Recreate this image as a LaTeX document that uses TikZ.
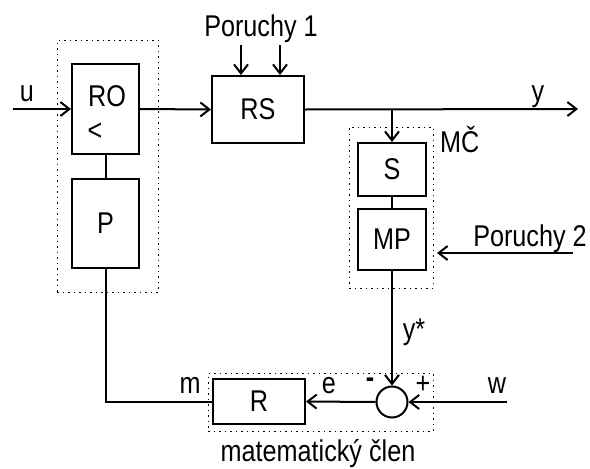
\documentclass[tikz,border=0pt]{standalone}
\usepackage{fontspec}
\setmainfont{Liberation Sans}[FakeStretch=0.84]
\usetikzlibrary{arrows.meta}
\begin{document}
\begin{tikzpicture}[x=1pt,y=-1pt,
  blk/.style={draw,line width=2pt,inner sep=0pt,anchor=center},
  grp/.style={draw,line width=1pt,dash pattern=on 1.5pt off 4pt,inner sep=0pt,anchor=center},
  lbl/.style={inner sep=0pt,font=\fontsize{30}{32}\selectfont},
  conn/.style={line width=2pt},
  arr/.style={conn,-{Straight Barb[length=9pt,width=14pt,line width=2pt]}}
]
\useasboundingbox (0,0) rectangle (590,469);
\fill[white] (0,0) rectangle (590,469);
% groups
\node[grp,minimum width=101pt,minimum height=252pt] (gl) at (107.5,166) {};
\node[grp,minimum width=84pt,minimum height=161pt] (gmc) at (391,207.5) {};
\node[grp,minimum width=225pt,minimum height=58pt] (gm) at (320.5,402) {};
% blocks
\node[blk,minimum width=67pt,minimum height=90pt] (ro) at (105.5,109) {};
\node[lbl,anchor=base] (rotxt) at (107,106) {RO};
\node[lbl,anchor=base] (lt) at (95,140) {<};
\node[blk,minimum width=67pt,minimum height=89pt,lbl] (p) at (105.5,223.5) {P};
\node[blk,minimum width=92pt,minimum height=67pt,lbl] (rs) at (258,109.5) {RS};
\node[blk,minimum width=68pt,minimum height=53pt,lbl] (s) at (392,169.5) {S};
\node[blk,minimum width=68pt,minimum height=61pt,lbl] (mp) at (392,239.5) {MP};
\node[blk,minimum width=92pt,minimum height=45pt,lbl] (r) at (259,401.5) {R};
\node[draw,circle,line width=2pt,minimum size=31pt,inner sep=0pt] (sum) at (392,402) {};
% coordinates
\coordinate (uin) at (13,109);
\coordinate (yout) at (578,109);
\coordinate (br) at (392,109);
\coordinate (d1a) at (241,45);
\coordinate (d1b) at (280,45);
\coordinate (d2) at (573,253);
\coordinate (d2e) at (437,253);
\coordinate (win) at (507,402);
% connectors
\draw[arr] (uin) -- (ro.west);
\draw[arr] (ro.east) -- (rs.west);
\draw[arr] (d1a) -- (d1a |- rs.north);
\draw[arr] (d1b) -- (d1b |- rs.north);
\draw[arr] (rs.east) -- (yout);
\draw[arr] (br) -- (s.north);
\draw[conn] (s.south) -- (mp.north);
\draw[conn] (ro.south) -- (p.north);
\draw[arr] (d2) -- (d2e);
\draw[arr] (mp.south) -- (sum.north);
\draw[arr] (win) -- (sum.east);
\draw[arr] (sum.west) -- (r.east);
\draw[conn] (p.south) |- (r.west);
% labels
\node[lbl,anchor=base] (lu) at (27,101) {u};
\node[lbl,anchor=base] (lp1) at (261,36) {Poruchy 1};
\node[lbl,anchor=base] (ly) at (538,101) {y};
\node[lbl,anchor=base west] (lmc) at (440,152) {MČ};
\node[lbl,anchor=base] (lp2) at (530,246) {Poruchy 2};
\node[lbl,anchor=base] (lys) at (414,339) {y*};
\node[lbl,anchor=base] (lw) at (497,393) {w};
\node[lbl,anchor=base] (lplus) at (423,393) {+};
\node[lbl,anchor=base] (lminus) at (370,387) {\textbf{-}};
\node[lbl,anchor=base] (le) at (329,393) {e};
\node[lbl,anchor=base] (lm) at (190,393) {m};
\node[lbl,anchor=base] (lmat) at (318,461) {matematický člen};
\end{tikzpicture}
\end{document}
